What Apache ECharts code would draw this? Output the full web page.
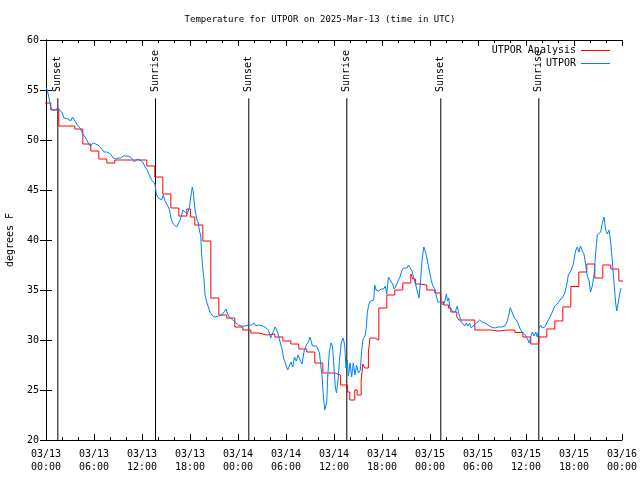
<!DOCTYPE html>
<html><head><meta charset="utf-8">
<script src="https://cdn.jsdelivr.net/npm/echarts@6/dist/echarts.min.js"></script>
<style>html,body{margin:0;padding:0;background:#fff}#c{width:640px;height:480px}</style>
</head><body><div id="c"></div>
<script>
const titleText = 'Temperature for UTPOR on 2025-Mar-13 (time in UTC)';
const xTickLabels = ['03/13\n00:00','03/13\n06:00','03/13\n12:00','03/13\n18:00','03/14\n00:00','03/14\n06:00','03/14\n12:00','03/14\n18:00','03/15\n00:00','03/15\n06:00','03/15\n12:00','03/15\n18:00','03/16\n00:00'];
const yAxisTitle = 'degrees F';
const seriesNames = ['UTPOR Analysis', 'UTPOR'];

// hours since 03/13 00:00 UTC
const eventHours = [1.48, 13.69, 25.35, 37.6, 49.35, 61.6];
const eventNames = ['Sunset', 'Sunrise', 'Sunset', 'Sunrise', 'Sunset', 'Sunrise'];

const analysisHours = [-0.4,0.6,1.6,2.6,3.6,4.6,5.6,6.6,7.6,8.6,9.6,10.6,11.6,12.6,13.6,14.6,15.6,16.6,17.6,18.05,18.6,19.6,20.6,21.6,22.6,23.6,24.6,25.6,26.6,27.6,28.6,29.6,30.6,31.6,32.6,33.6,34.6,35.6,36.1,36.8,37.7,37.98,38.6,38.9,39.4,39.6,39.84,40.3,40.5,41.1,41.6,42.6,43.6,44.6,45.6,45.85,46.2,46.6,47.6,48.6,49.35,49.7,50.3,50.6,51.35,51.6,52.6,53.6,54.6,55.6,56.6,57.6,58.6,59.6,60.6,61.6,62.6,63.6,64.6,65.6,66.6,67.6,68.6,69.6,70.6,71.6,72.6];
const analysisTemps = [53.7,53.0,51.4,51.4,51.1,49.6,48.9,48.1,47.7,48.0,48.0,48.0,48.0,47.4,46.3,44.6,43.2,42.4,43.1,42.3,41.5,39.9,34.2,32.5,32.2,31.3,31.0,30.7,30.5,30.6,30.3,29.9,29.6,29.1,28.8,27.7,26.7,26.7,26.5,25.5,24.8,24.0,25.0,24.5,26.0,27.6,27.2,28.8,30.2,30.0,33.2,34.5,35.0,35.7,36.6,36.1,35.6,35.5,35.0,34.7,33.8,33.5,33.2,32.8,32.3,32.0,32.0,31.0,31.0,30.9,31.0,31.0,30.75,30.3,29.6,30.3,31.1,31.9,33.3,35.35,36.8,37.6,36.2,37.5,37.1,35.9,35.9];

const obsHours = [0,0.16,0.38,0.59,0.79,1.09,1.34,1.5,1.75,2.04,2.25,2.5,2.75,2.91,3.09,3.31,3.5,3.71,3.91,4.25,4.54,4.75,4.96,5.16,5.5,5.71,5.91,6.21,6.41,6.66,6.96,7.25,7.59,7.88,8.16,8.41,8.71,9.0,9.34,9.66,9.96,10.25,10.56,10.79,11.06,11.21,11.41,11.75,12.09,12.38,12.66,13.0,13.21,13.38,13.63,13.78,14.04,14.25,14.46,14.66,14.88,15.09,15.29,15.44,15.59,15.75,15.91,16.13,16.34,16.54,16.75,16.96,17.09,17.38,17.66,17.91,18.09,18.29,18.41,18.5,18.63,18.84,19.04,19.16,19.34,19.46,19.59,19.75,19.88,20.09,20.29,20.5,20.84,21.13,21.54,21.75,21.96,22.25,22.5,22.66,22.91,23.21,23.41,23.63,24.04,24.46,24.88,25.29,25.71,26.0,26.25,26.54,26.75,27.09,27.38,27.59,27.79,28.09,28.34,28.63,28.84,29.04,29.29,29.54,29.69,29.91,30.21,30.41,30.63,30.84,31.06,31.29,31.5,31.75,32.0,32.29,32.56,32.79,33.0,33.13,33.31,33.54,33.81,34.04,34.19,34.34,34.5,34.66,34.84,34.94,35.09,35.21,35.41,35.63,35.81,35.96,36.16,36.31,36.5,36.69,36.91,37.13,37.34,37.5,37.66,37.81,38.0,38.21,38.41,38.63,38.81,39.06,39.29,39.44,39.63,39.88,40.04,40.16,40.34,40.54,40.75,40.96,41.09,41.25,41.56,41.91,42.19,42.41,42.59,42.81,43.06,43.31,43.54,43.75,44.0,44.25,44.46,44.69,44.91,45.13,45.31,45.54,45.75,45.94,46.15,46.38,46.63,46.81,47.0,47.23,47.44,47.66,47.88,48.09,48.31,48.5,48.66,48.81,49.0,49.41,49.63,49.84,50.04,50.19,50.34,50.46,50.66,50.88,51.16,51.41,51.59,51.75,51.91,52.13,52.34,52.54,52.75,52.96,53.16,53.5,53.79,54.0,54.21,54.5,54.84,55.25,55.66,56.09,56.5,56.91,57.34,57.63,57.84,58.03,58.25,58.5,58.79,59.0,59.21,59.5,59.81,60.06,60.25,60.41,60.59,60.79,61.0,61.21,61.41,61.63,61.84,62.04,62.34,62.66,63.0,63.29,63.59,63.91,64.25,64.54,64.84,65.09,65.29,65.59,65.88,66.19,66.41,66.63,66.81,67.04,67.25,67.46,67.66,67.88,68.06,68.29,68.5,68.71,68.91,69.13,69.34,69.54,69.75,69.96,70.16,70.38,70.56,70.78,71.0,71.21,71.34,71.5,71.71,71.88];
const obsTemps = [55.3,55.0,54.2,53.3,53.0,53.0,52.8,53.2,53.3,52.7,52.2,52.1,52.1,52.2,51.9,52.3,52.2,51.8,51.5,51.2,50.7,50.5,50.2,50.0,49.4,49.2,49.7,49.6,49.5,49.4,49.1,48.8,48.8,48.7,48.5,48.2,48.1,48.2,48.2,48.4,48.4,48.4,48.3,48.2,47.8,48.0,48.1,48.0,47.8,47.3,47.0,46.3,46.0,45.8,45.6,44.6,44.2,44.3,44.0,44.5,43.9,43.8,43.3,43.0,42.3,41.9,41.6,41.4,41.3,41.4,42.0,42.5,43.0,42.8,42.6,43.2,44.3,45.3,44.8,44.0,43.0,42.1,41.7,41.0,40.4,38.5,37.2,36.0,34.5,33.8,33.3,32.8,32.4,32.3,32.4,32.5,32.5,32.8,33.1,32.7,32.3,32.1,32.0,31.8,31.5,31.4,31.4,31.5,31.5,31.7,31.4,31.5,31.3,31.4,31.3,31.5,31.0,30.2,30.7,31.3,31.0,30.5,29.7,29.0,28.2,27.7,27.0,27.4,27.8,27.3,28.3,27.9,28.5,28.0,27.6,29.0,29.5,29.8,30.3,30.2,29.4,29.6,29.4,29.3,28.7,27.5,26.5,24.5,23.0,22.8,23.8,26.3,28.8,29.7,29.4,27.7,25.3,24.7,26.0,28.0,29.7,30.2,29.5,27.2,28.0,26.4,27.7,26.3,27.7,26.5,27.5,26.7,27.0,28.8,30.1,30.4,31.2,32.7,33.5,33.9,33.8,34.0,35.5,35.0,34.9,35.1,35.1,35.4,34.6,36.3,36.2,35.6,35.1,35.4,35.9,36.3,36.9,37.2,37.4,37.2,37.5,37.3,36.9,36.3,35.7,35.0,34.2,35.8,38.0,39.3,38.8,38.0,37.1,36.2,35.5,35.6,35.0,34.3,33.8,33.8,33.5,33.8,34.6,33.9,34.2,33.3,33.1,32.8,32.8,33.4,32.7,32.5,31.8,32.0,31.4,31.7,31.4,31.7,31.2,31.5,31.7,31.8,32.0,31.8,31.7,31.5,31.3,31.2,31.3,31.3,31.4,31.8,32.5,33.25,32.8,32.3,32.0,31.7,31.2,30.8,30.6,30.4,30.0,29.7,30.3,30.8,30.4,30.8,30.3,31.2,31.5,31.2,31.3,31.8,32.3,32.8,33.4,33.6,34.0,34.2,34.7,35.5,36.5,36.9,37.5,38.9,39.3,38.8,39.4,38.9,38.6,37.5,36.4,36.0,34.8,35.4,36.5,38.7,40.5,40.6,40.8,41.7,42.3,41.0,40.6,41.0,40.0,38.0,35.7,33.7,32.9,33.6,34.6,35.2];

const FONT = 'DejaVu Sans Mono';
const EVENT_LINE_TOP = 54.17;
const EVENT_LABEL_BASE = 54.8;
const RED = '#ff0000';
const BLUE = '#0080ff';

const tickCommon = {inside: true, length: 6, lineStyle: {color: '#000', width: 1}};
const minorCommon = {show: true, splitNumber: 3, length: 3, lineStyle: {color: '#000', width: 1}};

const chart = echarts.init(document.getElementById('c'), null, {renderer: 'canvas'});
chart.setOption({
  animation: false,
  backgroundColor: '#fff',
  title: {
    text: titleText, left: 'center', top: 15, padding: 0,
    textStyle: {fontFamily: FONT, fontSize: 9, fontWeight: 'normal', color: '#000'}
  },
  legend: {
    data: seriesNames, orient: 'vertical', align: 'right', right: 30, top: 44, padding: 0,
    icon: 'rect', itemWidth: 29, itemHeight: 1, itemGap: 0, selectedMode: false,
    textStyle: {fontFamily: FONT, fontSize: 10, color: '#000', lineHeight: 13}
  },
  grid: {left: 46, right: 18, top: 40, bottom: 40, containLabel: false, outerBoundsMode: 'none'},
  xAxis: [{
    type: 'value', min: 0, max: 72, interval: 6,
    axisLine: {lineStyle: {color: '#000', width: 1}},
    axisTick: tickCommon, minorTick: minorCommon, splitLine: {show: false},
    axisLabel: {
      formatter: v => xTickLabels[Math.round(v / 6)],
      fontFamily: FONT, fontSize: 10, color: '#000', lineHeight: 13, margin: 8,
      showMinLabel: true, showMaxLabel: true
    }
  }, {
    type: 'value', position: 'top', min: 0, max: 72, interval: 6,
    axisLine: {lineStyle: {color: '#000', width: 1}},
    axisTick: tickCommon, minorTick: minorCommon, splitLine: {show: false},
    axisLabel: {show: false}
  }],
  yAxis: [{
    type: 'value', min: 20, max: 60, interval: 5,
    name: yAxisTitle, nameLocation: 'middle', nameGap: 31, nameRotate: 90,
    nameMoveOverlap: false,
    nameTextStyle: {fontFamily: FONT, fontSize: 10, color: '#000'},
    axisLine: {lineStyle: {color: '#000', width: 1}},
    axisTick: tickCommon, splitLine: {show: false},
    axisLabel: {fontFamily: FONT, fontSize: 10, color: '#000', margin: 7}
  }, {
    type: 'value', position: 'right', min: 20, max: 60, interval: 5,
    axisLine: {lineStyle: {color: '#000', width: 1}},
    axisTick: tickCommon, splitLine: {show: false},
    axisLabel: {show: false}
  }],
  series: [{
    name: seriesNames[0], type: 'line', step: 'end', symbol: 'none',
    data: analysisHours.map((h, i) => [h, analysisTemps[i]]),
    lineStyle: {color: RED, width: 1}, itemStyle: {color: RED}, z: 3
  }, {
    name: seriesNames[1], type: 'line', symbol: 'none',
    data: obsHours.map((h, i) => [h, obsTemps[i]]),
    lineStyle: {color: BLUE, width: 1}, itemStyle: {color: BLUE}, z: 4
  }, {
    type: 'custom', name: 'events', z: 2,
    data: eventHours.map(h => [h, 20]),
    encode: {x: 0, y: 1},
    renderItem: (params, api) => {
      const h = api.value(0);
      const b = api.coord([h, 20]);
      const t = api.coord([h, EVENT_LINE_TOP]);
      const l = api.coord([h, EVENT_LABEL_BASE]);
      return {type: 'group', children: [
        {type: 'line', shape: {x1: b[0], y1: b[1], x2: t[0], y2: t[1]}, style: {stroke: '#000', lineWidth: 1}},
        {type: 'text', x: l[0], y: l[1], rotation: Math.PI / 2,
         style: {text: eventNames[params.dataIndex], fill: '#000', font: '10px "DejaVu Sans Mono"', textAlign: 'left', textVerticalAlign: 'middle'}}
      ]};
    }
  }]
});
</script>
</body></html>
